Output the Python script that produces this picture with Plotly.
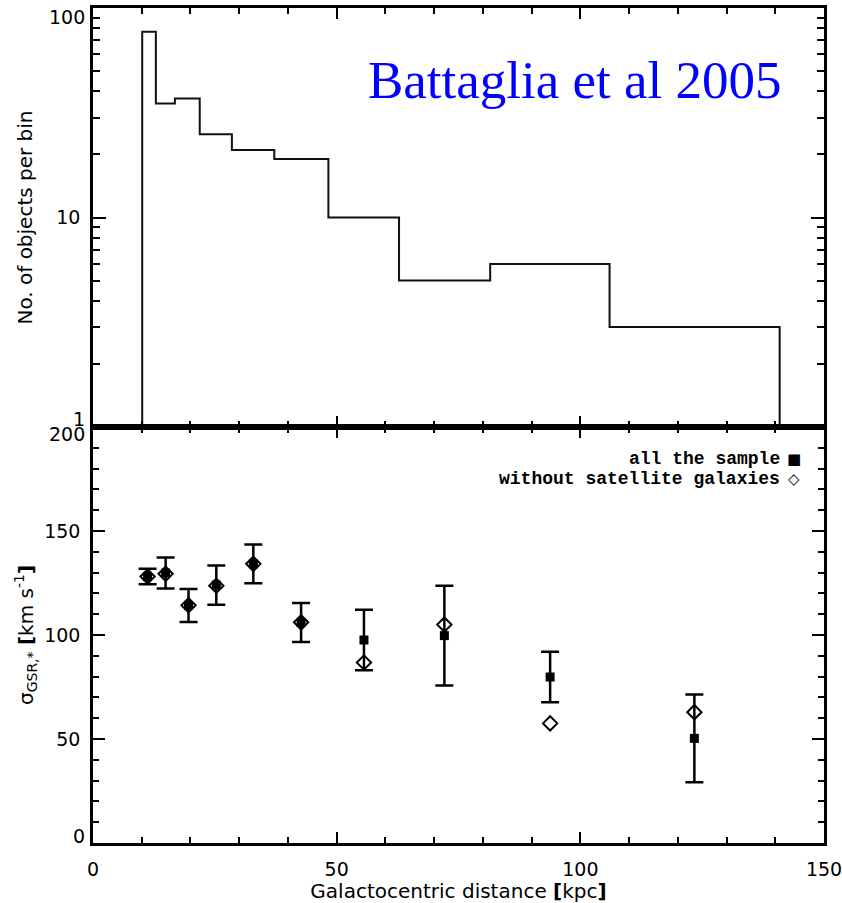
import plotly.graph_objects as go

# Histogram of halo tracers per distance bin (logarithmic bins)
bin_edges = [10.1, 12.9, 16.8, 21.9, 28.5, 37.2, 48.3, 62.8, 81.5, 106.0, 140.9]
bin_counts = [77, 35, 37, 25, 21, 19, 10, 5, 6, 3]

# Radial velocity dispersion profile
distance = [11.2, 14.9, 19.6, 25.3, 32.9, 42.7, 55.6, 72.1, 93.8, 123.4]
sigma_all = [128.1, 129.8, 114.2, 124.0, 134.2, 106.0, 97.6, 99.7, 79.8, 50.3]
sigma_err = [3.7, 7.5, 7.9, 9.4, 9.3, 9.4, 14.5, 24.0, 12.1, 21.1]
sigma_no_sat = [128.1, 129.4, 114.3, 123.7, 134.2, 106.1, 86.8, 105.0, 57.5, 62.9]

x_major = [0, 50, 100, 150]
sig_major = [0, 50, 100, 150, 200]
sig_major_text = ["", "50", "100", "150", ""]
log_major = [1, 10, 100]
log_major_text = ["", "10", ""]
log_minor = [2, 3, 4, 5, 6, 7, 8, 9, 20, 30, 40, 50, 60, 70, 80, 90]

TICK_FONT = dict(family="DejaVu Sans", size=19, color="black")
TITLE_FONT = dict(family="DejaVu Sans", size=20, color="black")
LEGEND_FONT = dict(family="Liberation Mono", size=18, color="black")

# step outline of the histogram, closed down to the floor at both ends
step_x = [bin_edges[0]] + bin_edges[:-1] + [bin_edges[-1], bin_edges[-1]]
step_y = [1] + bin_counts + [bin_counts[-1], 1]

fig = go.Figure()

fig.add_trace(go.Scatter(
    x=step_x, y=step_y, mode="lines", line_shape="hv",
    line=dict(color="#111111", width=2),
    xaxis="x2", yaxis="y2", showlegend=False, hoverinfo="skip",
))

fig.add_trace(go.Scatter(
    x=distance, y=sigma_all, mode="markers",
    marker=dict(symbol="square", size=9, color="black"),
    error_y=dict(type="data", array=sigma_err, symmetric=True,
                 color="black", thickness=2.5, width=9),
    xaxis="x", yaxis="y", showlegend=False, name="all the sample",
))

fig.add_trace(go.Scatter(
    x=distance, y=sigma_no_sat, mode="markers",
    marker=dict(symbol="diamond-open", size=11, color="black",
                line=dict(width=2, color="black")),
    xaxis="x", yaxis="y", showlegend=False, name="without satellite galaxies",
))

axis_common = dict(showline=True, linewidth=2.5, linecolor="black",
                   mirror="allticks", ticks="inside", tickwidth=2,
                   tickcolor="black", showgrid=False, zeroline=False,
                   tickfont=TICK_FONT, ticklabeloverflow="allow",
                   automargin=False)

split = 0.4982
x_range = [0, 150]

fig.update_layout(
    width=842, height=903,
    margin=dict(l=93, r=18, t=8, b=60),
    plot_bgcolor="white", paper_bgcolor="white",
    xaxis=dict(domain=[0, 1], anchor="y", range=x_range,
               tickmode="array", tickvals=x_major, ticklen=11,
               minor=dict(dtick=10, tick0=0, ticks="inside", ticklen=6,
                          tickwidth=2, tickcolor="black"),
               ticklabelstandoff=7,
               title=dict(text="Galactocentric distance <b>[</b>kpc<b>]</b>",
                          font=TITLE_FONT, standoff=0),
               **axis_common),
    yaxis=dict(domain=[0, split], anchor="x", range=[0, 200],
               tickmode="array", tickvals=sig_major, ticktext=sig_major_text,
               ticklen=12,
               minor=dict(dtick=10, tick0=0, ticks="inside", ticklen=6,
                          tickwidth=2, tickcolor="black"),
               ticklabelstandoff=6,
               title=dict(text="σ<sub>GSR,*</sub> <b>[</b>km s<sup>-1</sup><b>]</b>",
                          font=TITLE_FONT, standoff=6),
               **axis_common),
    xaxis2=dict(domain=[0, 1], anchor="y2", range=x_range, matches="x",
                tickmode="array", tickvals=x_major, ticklen=11,
                showticklabels=False,
                minor=dict(dtick=10, tick0=0, ticks="inside", ticklen=6,
                           tickwidth=2, tickcolor="black"),
                **axis_common),
    yaxis2=dict(domain=[split, 1], anchor="x2", type="log", range=[0, 2],
                tickmode="array", tickvals=log_major, ticktext=log_major_text,
                ticklen=13,
                minor=dict(tickmode="array", tickvals=log_minor, ticks="inside",
                           ticklen=7, tickwidth=2, tickcolor="black"),
                ticklabelstandoff=6,
                title=dict(text="No. of objects per bin", font=TITLE_FONT,
                           standoff=19),
                **axis_common),
)

# end labels nudged inside the panels
end_labels = [
    ("0", "y", 0, 7), ("200", "y", 200, -7),
    ("1", "y2", 0, 8), ("100", "y2", 2, -9),
]
for text, yref, yval, shift in end_labels:
    fig.add_annotation(text=text, xref="paper", x=0, xanchor="right",
                       xshift=-6, yref=yref, y=yval, yanchor="middle",
                       yshift=shift, showarrow=False, font=TICK_FONT)

# legend of the dispersion panel
legend_rows = [("all the sample", "■", 184.7), ("without satellite galaxies", "◇", 175.0)]
for label, glyph, yval in legend_rows:
    fig.add_annotation(text=label, xref="x", x=141.3, xanchor="right",
                       yref="y", y=yval, yanchor="middle", showarrow=False,
                       font=dict(LEGEND_FONT, weight="bold"))
    fig.add_annotation(text=glyph, xref="x", x=143.8, xanchor="center",
                       yref="y", y=yval, yanchor="middle", showarrow=False,
                       font=dict(family="DejaVu Sans", size=15, color="black"))

fig.add_annotation(text="Battaglia et al 2005", xref="paper", x=0.659,
                   xanchor="center", yref="paper", y=0.914, yanchor="middle",
                   showarrow=False,
                   font=dict(family="Liberation Serif", size=53, color="#0000ff"))

fig.write_html("out.html")
